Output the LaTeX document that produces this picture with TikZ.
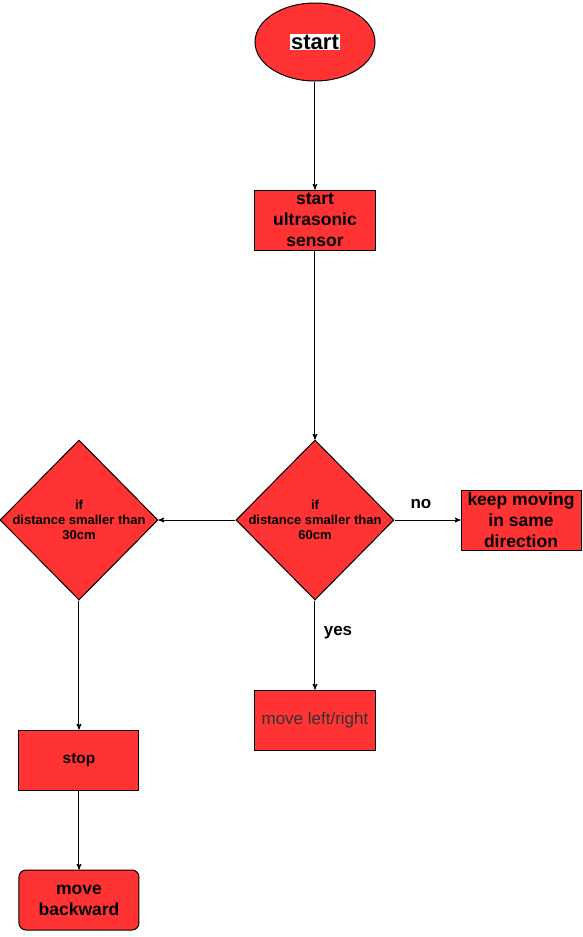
\documentclass[tikz,border=0pt]{standalone}
\usepackage{fontspec}
\setmainfont{Liberation Sans}
\usetikzlibrary{shapes,arrows}
\definecolor{boxred}{HTML}{FF3333}

\begin{document}
\begin{tikzpicture}[->,>=stealth',shorten >=0pt,auto,line width=1pt]
\tikzstyle{process}=[draw=black,fill=boxred,text=black,minimum width=120pt,minimum height=60pt,align=center,inner sep=0pt,font=\bfseries\fontsize{17.5}{21}\selectfont]
\tikzstyle{decision}=[diamond,draw=black,fill=boxred,minimum width=158pt,minimum height=160pt,inner sep=0pt]
\tikzstyle{dtext}=[align=center,font=\bfseries\fontsize{13}{15}\selectfont]
\tikzstyle{answer}=[font=\bfseries\fontsize{17}{19}\selectfont]
\useasboundingbox (-315pt,42pt) rectangle (268pt,-895pt);
\node[ellipse,draw=black,fill=boxred,minimum width=120pt,minimum height=78pt,
  label={[fill=white,inner sep=1pt,font=\bfseries\fontsize{22}{26}\selectfont]center:start}] (start) {};
\node[process][below of=start,node distance=178pt] (sensor) {start\\ultrasonic\\sensor};
\node[decision][below of=sensor,node distance=300pt,
  label={[dtext]center:{if\\distance smaller than\\60cm}}] (d60) {};
\node[process][right of=d60,node distance=206pt] (keep) {keep moving\\in same\\direction};
\node[process][below of=d60,node distance=200pt,font=\fontsize{17}{20}\selectfont,text=black!80] (turn) {move left/right};
\node[decision][left of=d60,node distance=236pt,
  label={[dtext]center:{if\\distance smaller than\\30cm}}] (d30) {};
\node[process][below of=d30,node distance=240pt,font=\bfseries\fontsize{15.5}{18}\selectfont] (stop) {stop};
\node[process][below of=stop,node distance=140pt,rounded corners=7pt] (back) {move\\backward};
\path (start) edge (sensor)
      (sensor) edge (d60)
      (d60) edge node[answer,above=8pt,pos=0.4]{no} (keep)
            edge node[answer,right=5pt,pos=0.36]{yes} (turn)
            edge (d30)
      (d30) edge (stop)
      (stop) edge (back);
\end{tikzpicture}
\end{document}
